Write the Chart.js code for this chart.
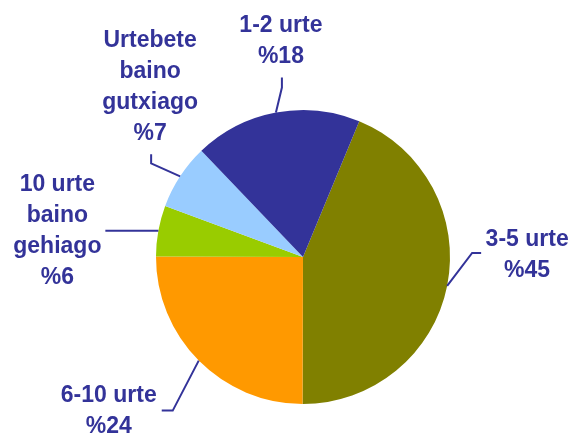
<!DOCTYPE html>
<html>
<head>
<meta charset="utf-8">
<script src="https://cdn.jsdelivr.net/npm/chart.js@4/dist/chart.umd.min.js"></script>
<style>
  html, body { margin: 0; padding: 0; background: #ffffff; }
  #wrap { width: 572px; height: 434px; }
</style>
</head>
<body>
<div id="wrap"><canvas id="pieChart" width="572" height="434"></canvas></div>
<script>
// Chart data (clockwise, starting at the 3-5 urte slice)
const categories = [['3-5 urte'], ['6-10 urte'], ['10 urte', 'baino', 'gehiago'], ['Urtebete', 'baino', 'gutxiago'], ['1-2 urte']];
const shares = [43.8, 25, 5.6, 7.2, 18.4];
const percentLabels = ['%45', '%24', '%6', '%7', '%18'];
const sliceColors = ['#808000', '#FF9900', '#99CC00', '#99CCFF', '#333399'];

const textColor = '#333399';

// leader line bends and label position, relative to the point on the slice edge
const labelLayout = [
    { path: [[25, -33], [34, -33]], text: [80, -40] },
    { path: [[-26, 50], [-37, 50]], text: [-90, 41] },
    { path: [[-53, 0]], text: [-101, -40] },
    { path: [[-29, -13], [-29, -22]], text: [-30, -129] },
    { path: [[6, -25], [6, -35]], text: [5, -81] }
];

// Draws the labels with their leader lines
const leaderLabels = {
    id: 'leaderLabels',
    afterDatasetsDraw(chart) {
        const ctx = chart.ctx;
        const arcs = chart.getDatasetMeta(0).data;
        ctx.save();
        ctx.strokeStyle = textColor;
        ctx.fillStyle = textColor;
        ctx.lineWidth = 2;
        ctx.font = 'bold 23px "Liberation Sans", Arial, sans-serif';
        ctx.textAlign = 'center';
        ctx.textBaseline = 'alphabetic';
        arcs.forEach((arc, i) => {
            const p = arc.getProps(['x', 'y', 'startAngle', 'endAngle', 'outerRadius'], true);
            const mid = (p.startAngle + p.endAngle) / 2;
            const ax = p.x + Math.cos(mid) * p.outerRadius;
            const ay = p.y + Math.sin(mid) * p.outerRadius;
            const lay = labelLayout[i];

            ctx.beginPath();
            ctx.moveTo(ax, ay);
            lay.path.forEach(pt => ctx.lineTo(ax + pt[0], ay + pt[1]));
            ctx.stroke();

            const lines = categories[i].concat([percentLabels[i]]);
            lines.forEach((line, k) => {
                ctx.fillText(line, ax + lay.text[0], ay + lay.text[1] + k * 31);
            });
        });
        ctx.restore();
    }
};

function createPieChart() {
    const ctx = document.getElementById('pieChart').getContext('2d');
    new Chart(ctx, {
        type: 'pie',
        data: {
            labels: categories.map(c => c.join(' ')),
            datasets: [{
                data: shares,
                backgroundColor: sliceColors,
                borderWidth: 0
            }]
        },
        options: {
            responsive: false,
            animation: false,
            rotation: 22.5,
            layout: {
                padding: { top: 110, bottom: 30, left: 156, right: 122 }
            },
            plugins: {
                legend: { display: false },
                tooltip: { enabled: false }
            }
        },
        plugins: [leaderLabels]
    });
}

window.onload = createPieChart;
</script>
</body>
</html>
